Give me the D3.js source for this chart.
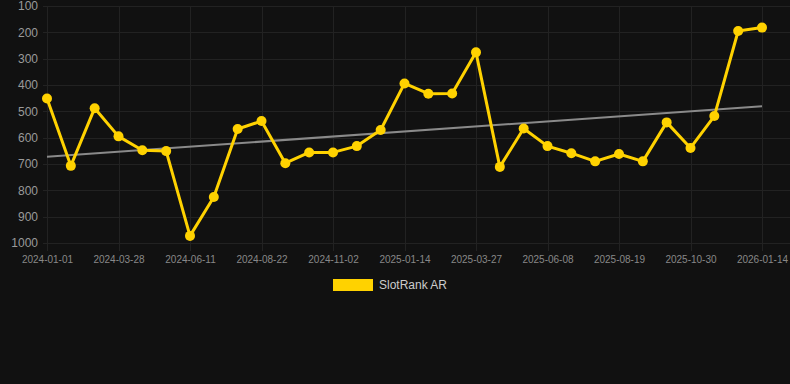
<!DOCTYPE html>
<html>
<head>
<meta charset="utf-8">
<script src="https://cdn.jsdelivr.net/npm/d3@7"></script>
<style>
  html, body { margin: 0; padding: 0; background: #111111; }
  svg { display: block; font-family: "Liberation Sans", Arial, sans-serif; }
</style>
</head>
<body>
<svg id="chart" width="790" height="384"></svg>
<script>
// series name
var seriesName = "SlotRank AR";

// categories (one per point), every 3rd one is labelled on the axis
var dates = [
    "2024-01-01", "2024-01-30", "2024-02-28", "2024-03-28", "2024-04-22", "2024-05-17",
    "2024-06-11", "2024-07-05", "2024-07-29", "2024-08-22", "2024-09-15", "2024-10-09",
    "2024-11-02", "2024-11-26", "2024-12-21", "2025-01-14", "2025-02-07", "2025-03-03",
    "2025-03-27", "2025-04-21", "2025-05-15", "2025-06-08", "2025-07-02", "2025-07-26",
    "2025-08-19", "2025-09-12", "2025-10-06", "2025-10-30", "2025-11-24", "2025-12-20",
    "2026-01-14"
];

// rank values (lower is better, axis is reversed)
var ranks = [
    451, 707, 488, 595, 648, 651, 973, 825, 567, 537,
    697, 656, 656, 632, 571, 394, 433, 432, 276, 711,
    565, 632, 659, 690, 662, 690, 542, 639, 518, 195,
    182
];

var xTickLabels = [
    "2024-01-01", "2024-03-28", "2024-06-11", "2024-08-22", "2024-11-02", "2025-01-14",
    "2025-03-27", "2025-06-08", "2025-08-19", "2025-10-30", "2026-01-14"
];
var yTickLabels = [100, 200, 300, 400, 500, 600, 700, 800, 900, 1000];

var svg = d3.select("#chart");

var plotLeft = 43, plotRight = 790, plotTop = 6, plotBottom = 243;

var x = d3.scalePoint()
    .domain(dates)
    .range([47, 762]);

var y = d3.scaleLinear()
    .domain([100, 1000])
    .range([plotTop, plotBottom]);

// grid
svg.append("g")
    .selectAll("line")
    .data(yTickLabels)
    .join("line")
    .attr("x1", plotLeft)
    .attr("x2", plotRight)
    .attr("y1", function(d) { return Math.round(y(d)) + 0.5; })
    .attr("y2", function(d) { return Math.round(y(d)) + 0.5; })
    .attr("stroke", "#222222")
    .attr("stroke-width", 1);

svg.append("g")
    .selectAll("line")
    .data(xTickLabels)
    .join("line")
    .attr("x1", function(d) { return Math.round(x(d)) + 0.5; })
    .attr("x2", function(d) { return Math.round(x(d)) + 0.5; })
    .attr("y1", plotTop)
    .attr("y2", plotBottom + 8)
    .attr("stroke", "#222222")
    .attr("stroke-width", 1);

// axes (labels only)
var yAxis = svg.append("g")
    .attr("transform", "translate(38,0)")
    .call(d3.axisLeft(y).tickValues(yTickLabels).tickFormat(d3.format("d")).tickSize(0).tickPadding(0));
yAxis.select(".domain").remove();
yAxis.selectAll("text")
    .attr("fill", "#9a9a9a")
    .style("font-size", "12px");

var xAxis = svg.append("g")
    .attr("transform", "translate(0," + (plotBottom + 11) + ")")
    .call(d3.axisBottom(x).tickValues(xTickLabels).tickSize(0).tickPadding(2));
xAxis.select(".domain").remove();
xAxis.selectAll("text")
    .attr("fill", "#888888")
    .style("font-size", "10px");

// trend line (least squares over point index)
var n = ranks.length;
var mx = d3.mean(ranks, function(d, i) { return i; });
var my = d3.mean(ranks);
var sxy = d3.sum(ranks, function(d, i) { return (i - mx) * (d - my); });
var sxx = d3.sum(ranks, function(d, i) { return (i - mx) * (i - mx); });
var slope = sxy / sxx, icpt = my - slope * mx;

svg.append("line")
    .attr("x1", x(dates[0]))
    .attr("y1", y(icpt))
    .attr("x2", x(dates[n - 1]))
    .attr("y2", y(icpt + slope * (n - 1)))
    .attr("stroke", "#8a8a8a")
    .attr("stroke-width", 2);

// series line
var line = d3.line()
    .x(function(d, i) { return x(dates[i]); })
    .y(function(d) { return y(d); });

svg.append("path")
    .datum(ranks)
    .attr("d", line)
    .attr("fill", "none")
    .attr("stroke", "#FFD200")
    .attr("stroke-width", 3)
    .attr("stroke-linejoin", "round");

svg.append("g")
    .selectAll("circle")
    .data(ranks)
    .join("circle")
    .attr("cx", function(d, i) { return x(dates[i]); })
    .attr("cy", function(d) { return y(d); })
    .attr("r", 5)
    .attr("fill", "#FFD200");

// legend
var legend = svg.append("g").attr("transform", "translate(333,279)");
legend.append("rect")
    .attr("width", 40)
    .attr("height", 12)
    .attr("fill", "#FFD200");
legend.append("text")
    .attr("x", 46)
    .attr("y", 10)
    .attr("fill", "#cccccc")
    .style("font-size", "12px")
    .text(seriesName);
</script>
</body>
</html>
